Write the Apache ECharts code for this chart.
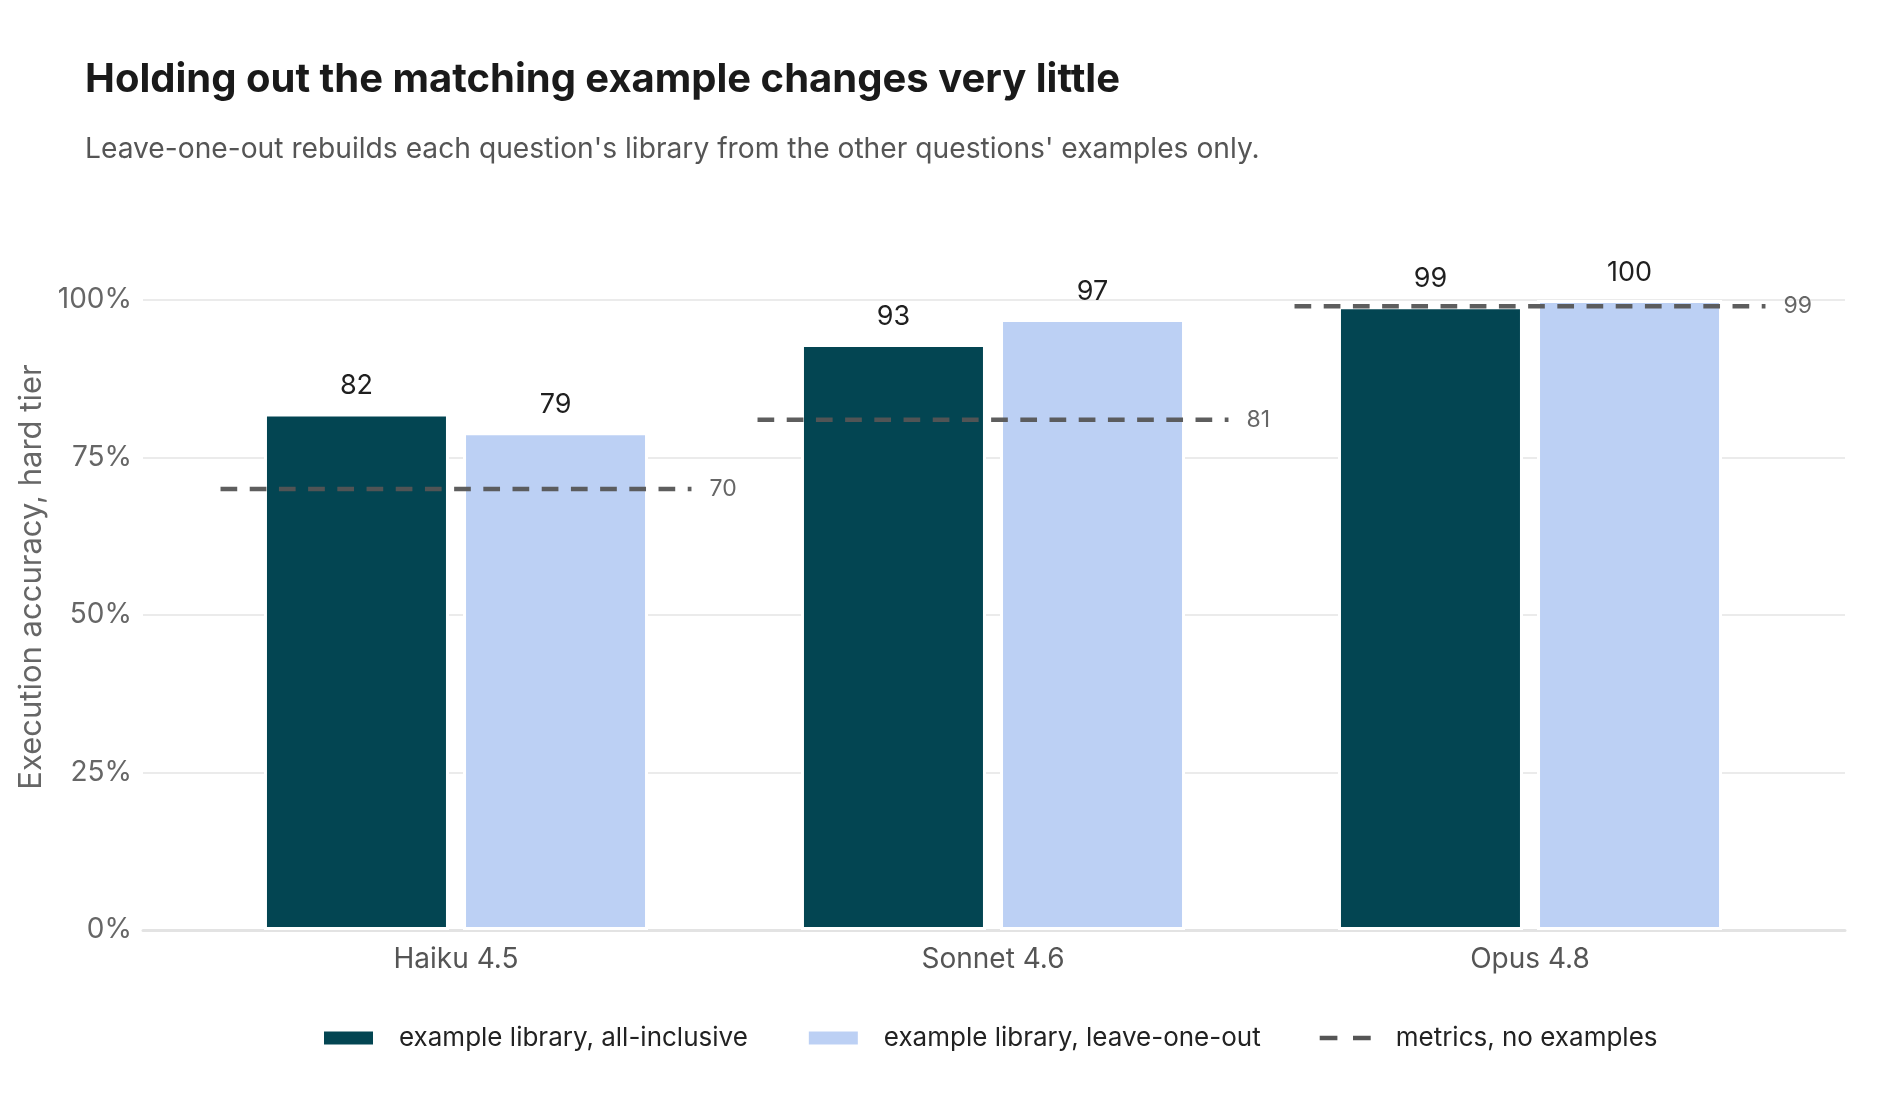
<!DOCTYPE html>
<html>
<head>
<meta charset="utf-8">
<script src="https://cdn.jsdelivr.net/npm/echarts@6/dist/echarts.min.js"></script>
<style>
html,body{margin:0;padding:0;background:#fff;}
#chart{width:1900px;height:1120px;}
</style>
</head>
<body>
<div id="chart"></div>
<script>
const titleText = 'Holding out the matching example changes very little';
const subtitleText = "Leave-one-out rebuilds each question's library from the other questions' examples only.";
const yAxisTitle = 'Execution accuracy, hard tier';
const categories = ['Haiku 4.5', 'Sonnet 4.6', 'Opus 4.8'];
const allInclusive = [82, 93, 99];
const leaveOneOut = [79, 97, 100];
const metricsNoExamples = [70, 81, 99];
const seriesNames = ['example library, all-inclusive', 'example library, leave-one-out', 'metrics, no examples'];
const yTicks = [0, 25, 50, 75, 100];

const FONT = 'Inter, "Noto Sans", sans-serif';
const chart = echarts.init(document.getElementById('chart'), null, {renderer: 'canvas'});

const option = {
  backgroundColor: '#ffffff',
  animation: false,
  textStyle: {fontFamily: FONT},
  title: [
    {text: titleText, left: 80, top: 55,
     textStyle: {fontFamily: FONT, fontSize: 40, fontWeight: 'bold', color: '#1a1a1a'}},
    {text: subtitleText, left: 80, top: 131,
     textStyle: {fontFamily: FONT, fontSize: 28.2, fontWeight: 'normal', color: '#555555'}}
  ],
  legend: {
    left: 317, top: 1020,
    itemWidth: 51, itemHeight: 15, itemGap: 59,
    textStyle: {fontFamily: FONT, fontSize: 26, color: '#222222', padding: [0, 0, 0, 20]},
    data: [
      {name: seriesNames[0], icon: 'rect'},
      {name: seriesNames[1], icon: 'rect'},
      {name: seriesNames[2], icon: 'path://M0,0h17v4.5h-17z M32,0h17v4.5h-17z', itemStyle: {color: '#555555'}}
    ]
  },
  grid: [
    {left: 143, right: 55, top: 300, bottom: 190},
    {left: 187.5, right: 101.5, top: 300, bottom: 190}
  ],
  xAxis: [
    {gridIndex: 0, type: 'value', min: 0, max: 1,
     axisLine: {show: true, lineStyle: {color: '#e3e3e3', width: 3}},
     axisTick: {show: false}, axisLabel: {show: false}, splitLine: {show: false}},
    {gridIndex: 1, type: 'category', data: categories,
     axisLine: {show: false}, axisTick: {show: false},
     axisLabel: {fontFamily: FONT, fontSize: 28, color: '#555555', margin: 16}}
  ],
  yAxis: [
    {gridIndex: 0, type: 'value', min: yTicks[0], max: yTicks[yTicks.length - 1], interval: 25,
     axisLine: {show: false}, axisTick: {show: false},
     axisLabel: {formatter: '{value}%', fontFamily: FONT, fontSize: 28, color: '#666666', margin: 11},
     splitLine: {lineStyle: {color: '#ebebeb', width: 2}},
     name: yAxisTitle, nameLocation: 'middle', nameGap: 95, nameRotate: 90,
     nameTextStyle: {fontFamily: FONT, fontSize: 31, color: '#666666', padding: [0, 0, 0, 76]}},
    {gridIndex: 1, type: 'value', min: 0, max: 100, show: false}
  ],
  series: [
    {name: seriesNames[0], type: 'bar', xAxisIndex: 1, yAxisIndex: 1,
     data: allInclusive, barWidth: 185, barGap: '7.6%',
     itemStyle: {color: '#034552', borderColor: '#ffffff', borderWidth: 3},
     label: {show: true, position: 'top', distance: 14, fontFamily: FONT, fontSize: 27, color: '#1f1f1f',
             formatter: p => String(Math.round(p.value))}},
    {name: seriesNames[1], type: 'bar', xAxisIndex: 1, yAxisIndex: 1,
     data: leaveOneOut, barWidth: 185,
     itemStyle: {color: '#bcd0f4', borderColor: '#ffffff', borderWidth: 3},
     label: {show: true, position: 'top', distance: 14, fontFamily: FONT, fontSize: 27, color: '#1f1f1f',
             formatter: p => String(Math.round(p.value))}},
    {name: seriesNames[2], type: 'custom', xAxisIndex: 1, yAxisIndex: 1, z: 5,
     itemStyle: {color: '#555555'},
     data: metricsNoExamples.map((v, i) => [i, v]),
     encode: {x: 0, y: 1},
     renderItem: function (params, api) {
       const xi = api.value(0), v = api.value(1);
       const c = api.coord([xi, v]);
       const bw = api.size([1, 0])[0];
       const half = bw * 0.4385;
       return {type: 'group', children: [
         {type: 'line', shape: {x1: c[0] - half, y1: c[1], x2: c[0] + half, y2: c[1]},
          style: {stroke: '#555555', lineWidth: 4.5, lineDash: [16.7, 12.5], opacity: 0.95}},
         {type: 'text', x: c[0] + half + 18, y: c[1],
          style: {text: String(Math.round(v)), fill: '#666666', font: '23px ' + FONT,
                  verticalAlign: 'middle', align: 'left'}}
       ]};
     }}
  ]
};
chart.setOption(option);
</script>
</body>
</html>
